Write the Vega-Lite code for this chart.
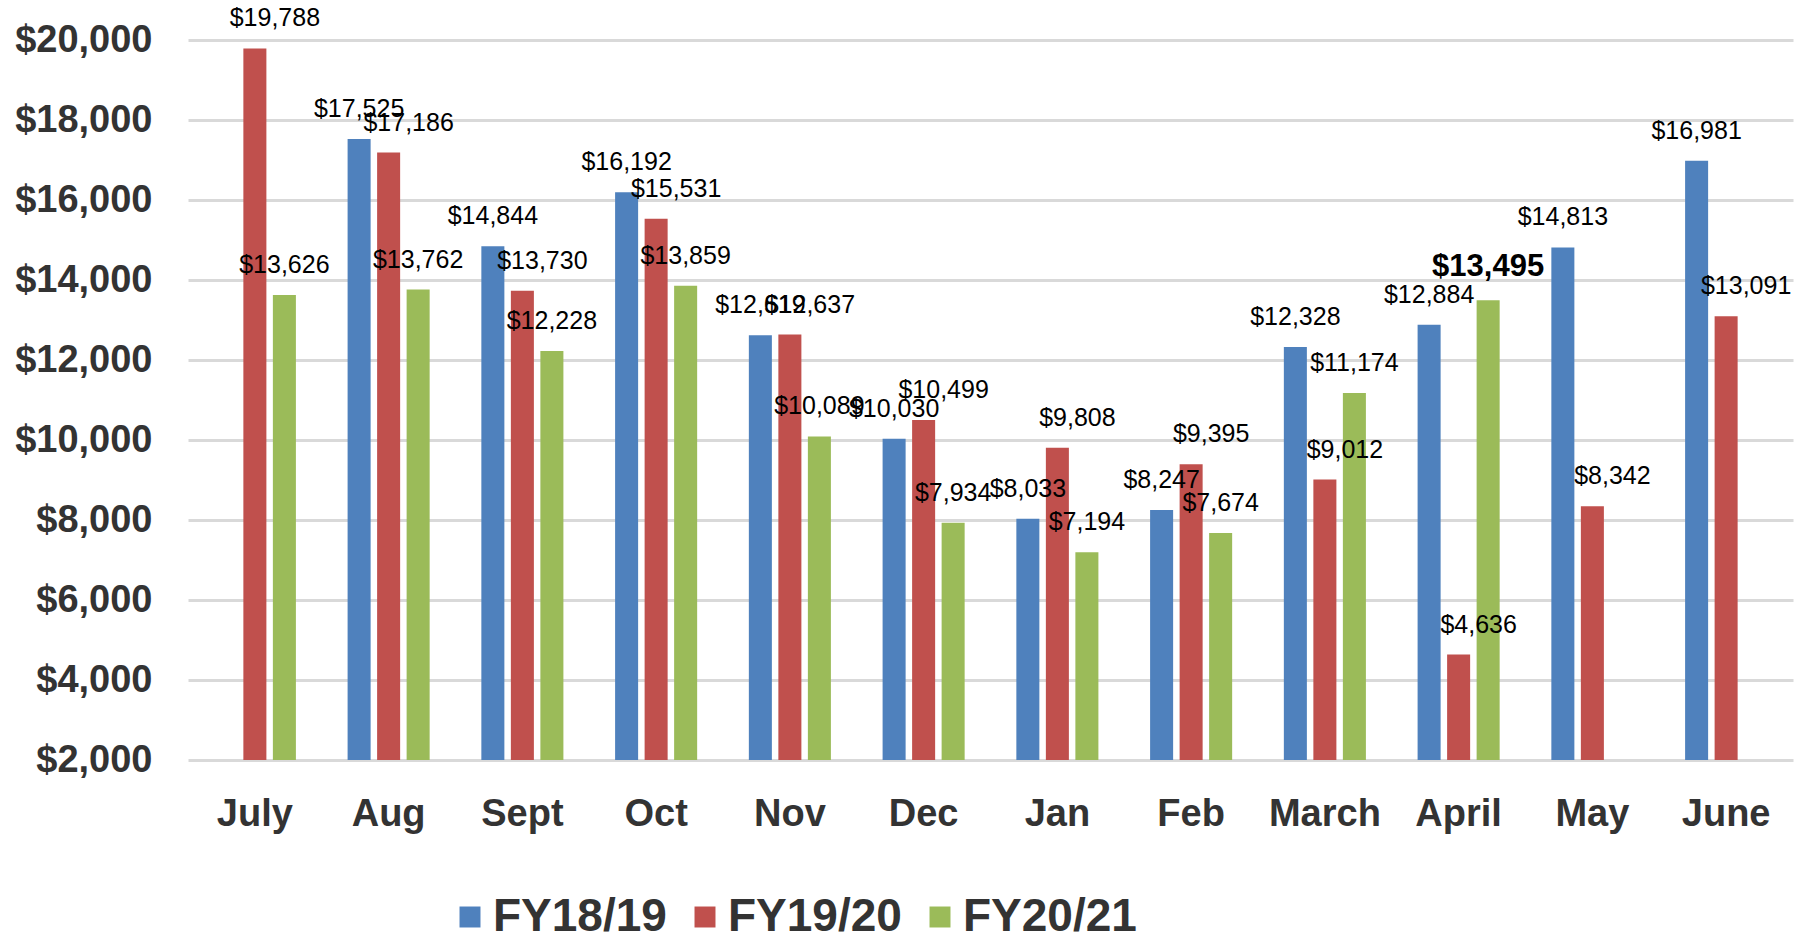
{
  "$schema": "https://vega.github.io/schema/vega-lite/v6.json",
  "autosize": {"type": "none"},
  "width": 1605,
  "height": 720,
  "padding": {"left": 188, "top": 40, "right": 17, "bottom": 181},
  "background": "white",
  "config": {"view": {"stroke": null}, "font": "Liberation Sans"},
  "data": {"values": [
    {"month": "Aug", "fy": "FY18/19", "v": 17525},
    {"month": "Sept", "fy": "FY18/19", "v": 14844},
    {"month": "Oct", "fy": "FY18/19", "v": 16192},
    {"month": "Nov", "fy": "FY18/19", "v": 12619},
    {"month": "Dec", "fy": "FY18/19", "v": 10030},
    {"month": "Jan", "fy": "FY18/19", "v": 8033},
    {"month": "Feb", "fy": "FY18/19", "v": 8247},
    {"month": "March", "fy": "FY18/19", "v": 12328},
    {"month": "April", "fy": "FY18/19", "v": 12884},
    {"month": "May", "fy": "FY18/19", "v": 14813},
    {"month": "June", "fy": "FY18/19", "v": 16981},
    {"month": "July", "fy": "FY19/20", "v": 19788},
    {"month": "Aug", "fy": "FY19/20", "v": 17186},
    {"month": "Sept", "fy": "FY19/20", "v": 13730},
    {"month": "Oct", "fy": "FY19/20", "v": 15531},
    {"month": "Nov", "fy": "FY19/20", "v": 12637},
    {"month": "Dec", "fy": "FY19/20", "v": 10499},
    {"month": "Jan", "fy": "FY19/20", "v": 9808},
    {"month": "Feb", "fy": "FY19/20", "v": 9395},
    {"month": "March", "fy": "FY19/20", "v": 9012},
    {"month": "April", "fy": "FY19/20", "v": 4636},
    {"month": "May", "fy": "FY19/20", "v": 8342},
    {"month": "June", "fy": "FY19/20", "v": 13091},
    {"month": "July", "fy": "FY20/21", "v": 13626},
    {"month": "Aug", "fy": "FY20/21", "v": 13762},
    {"month": "Sept", "fy": "FY20/21", "v": 12228},
    {"month": "Oct", "fy": "FY20/21", "v": 13859},
    {"month": "Nov", "fy": "FY20/21", "v": 10089},
    {"month": "Dec", "fy": "FY20/21", "v": 7934},
    {"month": "Jan", "fy": "FY20/21", "v": 7194},
    {"month": "Feb", "fy": "FY20/21", "v": 7674},
    {"month": "March", "fy": "FY20/21", "v": 11174},
    {"month": "April", "fy": "FY20/21", "v": 13495}
  ]},
  "encoding": {
    "x": {
      "field": "month", "type": "nominal",
      "sort": ["July","Aug","Sept","Oct","Nov","Dec","Jan","Feb","March","April","May","June"],
      "scale": {"paddingInner": 0.338, "paddingOuter": 0.169},
      "axis": {"title": null, "labelAngle": 0, "labelFontSize": 38, "labelFontWeight": "bold", "labelColor": "#333333", "labelPadding": 35, "domain": false, "ticks": false, "labelFont": "Liberation Sans"}
    },
    "xOffset": {"field": "fy", "type": "nominal", "scale": {"domain": ["FY18/19","FY19/20","FY20/21"], "paddingInner": 0.22, "paddingOuter": 0.11}},
    "y": {
      "field": "v", "type": "quantitative",
      "scale": {"domain": [2000, 20000], "zero": false, "nice": false},
      "axis": {"title": null, "values": [2000,4000,6000,8000,10000,12000,14000,16000,18000,20000], "format": "$,.0f", "labelFontSize": 38, "labelFontWeight": "bold", "labelColor": "#333333", "labelPadding": 36, "domain": false, "ticks": false, "gridColor": "#D9D9D9", "gridWidth": 3}
    },
    "text": {"field": "v", "type": "quantitative", "format": "$,.0f"}
  },
  "layer": [
    {
      "mark": {"type": "bar"},
      "encoding": {
        "y2": {"datum": 2000},
        "text": null,
        "color": {
          "field": "fy", "type": "nominal",
          "scale": {"domain": ["FY18/19","FY19/20","FY20/21"], "range": ["#4F81BD","#C0504D","#9BBB59"]},
          "legend": {"title": null, "orient": "none", "legendX": 259, "legendY": 854, "padding": 0, "direction": "horizontal", "symbolType": "square", "symbolSize": 440, "symbolStrokeWidth": 0, "labelFontSize": 46, "labelFontWeight": "bold", "labelColor": "#333333", "labelOffset": 0, "columnPadding": 15, "labelLimit": 400}
        }
      }
    },
    {
      "transform": [{"filter": "datum.fy == 'FY18/19'"}],
      "mark": {"type": "text", "baseline": "middle", "dy": -30, "fontSize": 25, "color": "black"}
    },
    {
      "transform": [{"filter": "datum.fy == 'FY19/20'"}],
      "mark": {"type": "text", "baseline": "middle", "dy": -30, "dx": 20, "fontSize": 25, "color": "black"}
    },
    {
      "transform": [{"filter": "datum.fy == 'FY20/21' && datum.month != 'April'"}],
      "mark": {"type": "text", "baseline": "middle", "dy": -30, "fontSize": 25, "color": "black"}
    },
    {
      "transform": [{"filter": "datum.fy == 'FY20/21' && datum.month == 'April'"}],
      "mark": {"type": "text", "baseline": "middle", "dy": -33, "fontSize": 31, "fontWeight": "bold", "color": "black"}
    }
  ]
}
